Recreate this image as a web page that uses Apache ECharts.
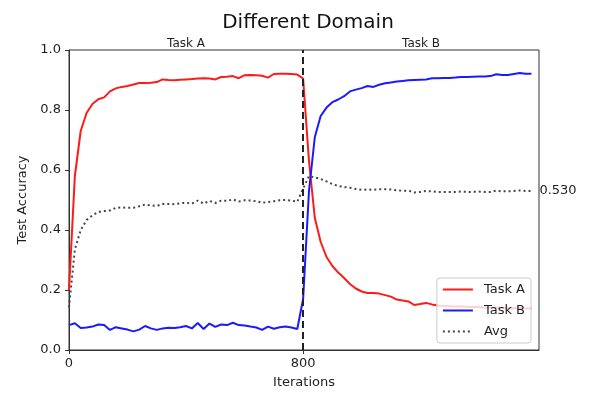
<!DOCTYPE html>
<html>
<head>
<meta charset="utf-8">
<script src="https://cdn.jsdelivr.net/npm/echarts@6/dist/echarts.min.js"></script>
<style>
  html, body { margin: 0; padding: 0; background: #fff; }
  #chart { width: 591px; height: 394px; }
</style>
</head>
<body>
<div id="chart"></div>
<script>
// Sampling interval (iterations) between consecutive evaluation points
const STEP = 20;
const SWITCH_ITER = 800;
const X_MAX = 1606;

// Test accuracy on task A, evaluated every STEP iterations
const taskA = [
  0.200, 0.580, 0.730, 0.790, 0.820, 0.836, 0.842, 0.862, 0.872, 0.877,
  0.880, 0.885, 0.890, 0.890, 0.891, 0.893, 0.902, 0.900, 0.899, 0.901,
  0.902, 0.903, 0.905, 0.906, 0.905, 0.902, 0.910, 0.911, 0.913, 0.906,
  0.916, 0.917, 0.916, 0.914, 0.908, 0.920, 0.921, 0.921, 0.920, 0.918,
  0.905, 0.630, 0.440, 0.360, 0.310, 0.280, 0.258, 0.240, 0.220, 0.205,
  0.195, 0.190, 0.190, 0.188, 0.183, 0.178, 0.168, 0.165, 0.162, 0.150,
  0.153, 0.157, 0.152, 0.148, 0.147, 0.146, 0.145, 0.146, 0.144, 0.143,
  0.144, 0.142, 0.141, 0.142, 0.140, 0.141, 0.139, 0.140, 0.138, 0.139
];

// Test accuracy on task B
const taskB = [
  0.083, 0.089, 0.073, 0.075, 0.078, 0.085, 0.083, 0.067, 0.076, 0.072,
  0.068, 0.062, 0.068, 0.080, 0.072, 0.067, 0.072, 0.074, 0.073, 0.076,
  0.080, 0.072, 0.090, 0.070, 0.088, 0.077, 0.085, 0.083, 0.091, 0.083,
  0.082, 0.078, 0.075, 0.067, 0.078, 0.071, 0.076, 0.078, 0.075, 0.070,
  0.170, 0.530, 0.710, 0.780, 0.808, 0.826, 0.835, 0.846, 0.862, 0.868,
  0.873, 0.880, 0.877, 0.884, 0.889, 0.892, 0.895, 0.897, 0.899, 0.900,
  0.901, 0.902, 0.906, 0.906, 0.907, 0.907, 0.908, 0.910, 0.910, 0.911,
  0.912, 0.912, 0.913, 0.919, 0.917, 0.917, 0.920, 0.923, 0.921, 0.921
];

// Average accuracy over both tasks
const avgAcc = [
  0.142, 0.335, 0.400, 0.433, 0.449, 0.460, 0.463, 0.465, 0.474, 0.475,
  0.474, 0.474, 0.479, 0.485, 0.482, 0.480, 0.487, 0.487, 0.486, 0.489,
  0.491, 0.488, 0.498, 0.488, 0.497, 0.490, 0.498, 0.497, 0.502, 0.495,
  0.499, 0.498, 0.496, 0.491, 0.493, 0.496, 0.499, 0.500, 0.498, 0.494,
  0.538, 0.580, 0.575, 0.570, 0.562, 0.553, 0.547, 0.543, 0.541, 0.537,
  0.534, 0.535, 0.534, 0.536, 0.536, 0.535, 0.532, 0.531, 0.531, 0.525,
  0.527, 0.530, 0.529, 0.527, 0.527, 0.527, 0.527, 0.528, 0.527, 0.527,
  0.528, 0.527, 0.527, 0.531, 0.529, 0.529, 0.530, 0.532, 0.530, 0.530
];

const xTicks = [0, 800];
const yTicks = [0.0, 0.2, 0.4, 0.6, 0.8, 1.0];
const phaseNames = ['Task A', 'Task B'];

const iterations = taskA.map((_, i) => i * STEP);
const pairs = (vals) => vals.map((v, i) => [iterations[i], v]);

const FONT = 'DejaVu Sans';
const TEXT = '#1f1f1f';

const chart = echarts.init(document.getElementById('chart'), null, { renderer: 'canvas' });

chart.setOption({
  animation: false,
  backgroundColor: '#fff',
  textStyle: { fontFamily: FONT },
  title: {
    text: 'Different Domain',
    left: 303,
    top: 8,
    textAlign: 'center',
    textStyle: { fontFamily: FONT, fontSize: 20, fontWeight: 'normal', color: '#111' }
  },
  grid: {
    left: 69, right: 52, top: 50, bottom: 44,
    show: true, borderColor: '#333', borderWidth: 1, backgroundColor: 'transparent'
  },
  legend: {
    orient: 'vertical',
    right: 60,
    top: 278,
    z: 20,
    padding: [5, 6, 5, 5],
    itemWidth: 30,
    itemHeight: 13,
    itemGap: 8,
    itemStyle: { opacity: 0 },
    backgroundColor: 'rgba(255,255,255,0.8)',
    borderColor: '#cccccc',
    borderWidth: 1,
    borderRadius: 3,
    textStyle: { fontFamily: FONT, fontSize: 13, color: TEXT, padding: [0, 0, 0, 6] },
    data: ['Task A', 'Task B', 'Avg']
  },
  xAxis: {
    type: 'value',
    min: 0,
    max: X_MAX,
    name: 'Iterations',
    nameLocation: 'middle',
    nameGap: 26,
    nameTextStyle: { fontFamily: FONT, fontSize: 13, color: TEXT },
    axisLine: { show: true, lineStyle: { color: '#333', width: 1 } },
    axisTick: { show: true, length: 4, lineStyle: { color: '#333' }, customValues: xTicks },
    axisLabel: { fontFamily: FONT, fontSize: 13, color: TEXT, margin: 7, customValues: xTicks },
    splitLine: { show: false }
  },
  yAxis: {
    type: 'value',
    min: 0,
    max: 1,
    interval: 0.2,
    name: 'Test Accuracy',
    nameLocation: 'middle',
    nameGap: 40,
    nameTextStyle: { fontFamily: FONT, fontSize: 13, color: TEXT },
    axisLine: { show: true, lineStyle: { color: '#333', width: 1 } },
    axisTick: { show: true, length: 4, lineStyle: { color: '#333' }, customValues: yTicks },
    axisLabel: {
      fontFamily: FONT, fontSize: 13, color: TEXT, margin: 8,
      customValues: yTicks,
      formatter: (v) => v.toFixed(1)
    },
    splitLine: { show: false }
  },
  series: [
    {
      name: 'Task A',
      type: 'line',
      data: pairs(taskA),
      showSymbol: false,
      symbol: 'none',
      lineStyle: { color: '#ff1a1a', width: 2 },
      itemStyle: { color: '#ff1a1a' },
      z: 3,
      markArea: {
        silent: true,
        itemStyle: { color: 'rgba(0,0,0,0)' },
        label: {
          show: true, position: 'top', distance: 0,
          fontFamily: FONT, fontSize: 12, color: TEXT
        },
        data: [
          [{ name: phaseNames[0], xAxis: 0 }, { xAxis: SWITCH_ITER }],
          [{ name: phaseNames[1], xAxis: SWITCH_ITER }, { xAxis: X_MAX }]
        ]
      }
    },
    {
      name: 'Task B',
      type: 'line',
      data: pairs(taskB),
      showSymbol: false,
      symbol: 'none',
      lineStyle: { color: '#1a1aff', width: 2 },
      itemStyle: { color: '#1a1aff' },
      z: 3
    },
    {
      name: 'Avg',
      type: 'line',
      data: pairs(avgAcc),
      showSymbol: false,
      symbol: 'none',
      lineStyle: { color: '#444', width: 2, type: [2, 3] },
      itemStyle: { color: '#444' },
      z: 3,
      endLabel: {
        show: true,
        distance: 8,
        fontFamily: FONT,
        fontSize: 13,
        color: TEXT,
        formatter: (p) => p.value[1].toFixed(3)
      },
      markLine: {
        silent: true,
        symbol: 'none',
        label: { show: false },
        lineStyle: { color: '#222', width: 2, type: [7, 4] },
        data: [{ xAxis: SWITCH_ITER }]
      }
    }
  ]
});
</script>
</body>
</html>
